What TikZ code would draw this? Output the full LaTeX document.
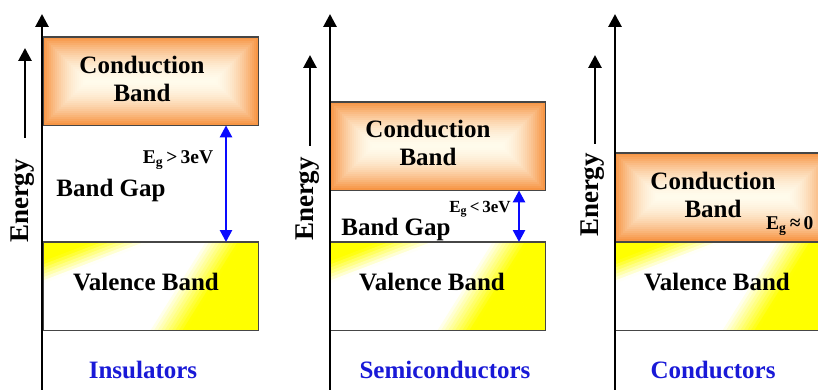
\documentclass[tikz,border=0pt]{standalone}
\usepackage{fontspec}
\setmainfont{Liberation Serif}
\usetikzlibrary{arrows.meta,calc}

\definecolor{cborange}{RGB}{247,150,70}
\definecolor{cbinner}{RGB}{255,251,236}
\definecolor{vbyellow}{RGB}{255,255,0}
\definecolor{gapblue}{RGB}{10,10,255}
\definecolor{kindblue}{RGB}{25,25,215}
\definecolor{bandline}{RGB}{70,70,70}

\tikzset{
  axisarrow/.style={line width=2.8pt, -{Triangle[width=13pt,length=13pt]}},
  gaparrow/.style={gapblue, line width=2.6pt, {Triangle[width=12pt,length=12pt]}-{Triangle[width=12pt,length=12pt]}},
  band/.style={anchor=north west, inner sep=0pt, minimum width=215pt, minimum height=88pt},
  bandedge/.style={draw=bandline, line width=1.2pt},
  bandtext/.style={font=\fontsize{25}{28}\selectfont\bfseries, align=center, inner sep=0pt},
  egtext/.style={font=\fontsize{19.5}{22}\selectfont\bfseries, inner sep=0pt},
  egsmall/.style={egtext, font=\fontsize{17}{19}\selectfont\bfseries},
  kindtext/.style={bandtext, text=kindblue},
  energytext/.style={font=\fontsize{27}{30}\selectfont\bfseries, rotate=90, inner sep=0pt}
}

% conduction band: orange rim fading to a light centre
\newcommand{\fillcband}[1]{%
  \foreach \i in {0,2,...,44} {
    \pgfmathsetmacro{\p}{100*(1-\i/44)^1.8}
    \fill[cborange!\p!cbinner] ($(#1.north west)+(\i,\i)$) rectangle ($(#1.south east)-(\i,\i)$);
  }
  \draw[bandedge] (#1.north west) rectangle (#1.south east);
}

% one slanted strip of the valence band: node, offset, normal, direction, colour
\newcommand{\vbstrip}[5]{%
  \pgfmathsetmacro{\sb}{#2+3.6}
  \fill[#5]
    ($(#1.north west)+#2*#3+250*#4$) -- ($(#1.north west)+#2*#3-250*#4$) --
    ($(#1.north west)+\sb*#3-250*#4$) -- ($(#1.north west)+\sb*#3+250*#4$) -- cycle;
}

% valence band: white streak between two yellow corners
\newcommand{\fillvband}[1]{%
  \begin{scope}
    \clip (#1.north west) rectangle (#1.south east);
    \fill[white] (#1.north west) rectangle (#1.south east);
    % upper left corner
    \foreach \s in {-6,-3,...,39} {
      \pgfmathsetmacro{\w}{100*max(0,min(1,(\s-16.5)/20))}
      \vbstrip{#1}{\s}{(0.355,0.935)}{(-0.935,0.355)}{white!\w!vbyellow}
    }
    % lower right corner
    \foreach \s in {132,135,...,240} {
      \pgfmathsetmacro{\w}{100*max(0,min(1,(165.5-\s)/30))}
      \vbstrip{#1}{\s}{(0.848,0.53)}{(-0.53,0.848)}{white!\w!vbyellow}
    }
  \end{scope}
  \draw[bandedge] (#1.north west) rectangle (#1.south east);
}

\begin{document}
\begin{tikzpicture}[x=1pt, y=-1pt]
    % Page frame, in pixels of the original slide
    \clip (0,0) rectangle (818,390);
    \useasboundingbox (0,0) rectangle (818,390);
    
    % ---------- Insulators ----------
    \node[band] (cb1) at (43,37) {};
    \node[band] (vb1) at (43,242) {};
    \fillcband{cb1}
    \fillvband{vb1}
    \node[bandtext] (cbt1) at (142,78.5) {Conduction\\Band};
    \node[bandtext] (vbt1) at (146,282) {Valence Band};
    \node[bandtext] (gap1) at (111,190) {Band Gap};
    \node[egtext] (eg1) at (178,160) {E\textsubscript{g}\,>\,3eV};
    \coordinate (g1) at (226,0);
    \draw[gaparrow] (cb1.south -| g1) -- (vb1.north -| g1);
    % energy axis
    \coordinate (o1) at (42,392);
    \coordinate (t1) at (42,14);
    \draw[axisarrow] (o1) -- (t1);
    \coordinate (ea1) at (25,138);
    \coordinate (eb1) at (25,48);
    \draw[axisarrow] (ea1) -- (eb1);
    \node[energytext] (en1) at (23,201) {Energy};
    \node[kindtext] (kind1) at (143,370) {Insulators};
    
    % ---------- Semiconductors ----------
    \node[band] (cb2) at (330,102) {};
    \node[band] (vb2) at (330,242) {};
    \fillcband{cb2}
    \fillvband{vb2}
    \node[bandtext] (cbt2) at (428,143) {Conduction\\Band};
    \node[bandtext] (vbt2) at (432,282) {Valence Band};
    \node[bandtext] (gap2) at (396,229) {Band Gap};
    \node[egsmall] (eg2) at (480,209) {E\textsubscript{g}\,<\,3eV};
    \coordinate (g2) at (519,0);
    \draw[gaparrow] (cb2.south -| g2) -- (vb2.north -| g2);
    % energy axis
    \coordinate (o2) at (330,392);
    \coordinate (t2) at (330,14);
    \draw[axisarrow] (o2) -- (t2);
    \coordinate (ea2) at (310,146);
    \coordinate (eb2) at (310,55);
    \draw[axisarrow] (ea2) -- (eb2);
    \node[energytext] (en2) at (308,199) {Energy};
    \node[kindtext] (kind2) at (445,370) {Semiconductors};
    
    % ---------- Conductors ----------
    \node[band] (cb3) at (615,153) {};
    \node[band] (vb3) at (615,242) {};
    \fillcband{cb3}
    \fillvband{vb3}
    \node[bandtext] (cbt3) at (713,194.5) {Conduction\\Band};
    \node[bandtext] (vbt3) at (717,282) {Valence Band};
    \node[egtext, anchor=west] (eg3) at (766,226) {E\textsubscript{g}\,≈\,0};
    % energy axis
    \coordinate (o3) at (615,392);
    \coordinate (t3) at (615,14);
    \draw[axisarrow] (o3) -- (t3);
    \coordinate (ea3) at (595,144);
    \coordinate (eb3) at (595,55);
    \draw[axisarrow] (ea3) -- (eb3);
    \node[energytext] (en3) at (593,195) {Energy};
    \node[kindtext] (kind3) at (713,370) {Conductors};
    
\end{tikzpicture}
\end{document}
